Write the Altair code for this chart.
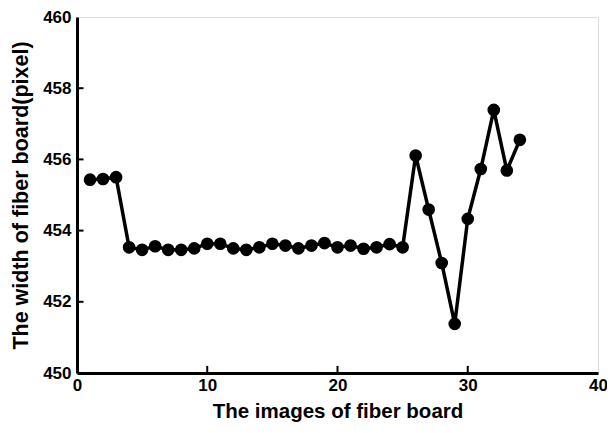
import altair as alt
import pandas as pd

image_idx = list(range(1, 35))
width_px = [455.43, 455.45, 455.50, 453.53, 453.46, 453.56, 453.46, 453.46, 453.50, 453.63,
            453.63, 453.50, 453.46, 453.53, 453.63, 453.58, 453.50, 453.58, 453.65, 453.53,
            453.58, 453.49, 453.53, 453.62, 453.53, 456.11, 454.59, 453.09, 451.38, 454.33,
            455.73, 457.39, 455.69, 456.55]
x_ticks = [10, 20, 30]
y_ticks = [452, 454, 456, 458]

df = pd.DataFrame({"x": image_idx, "y": width_px})
xt = pd.DataFrame({"x": x_ticks, "y0": [450] * 3, "y1": [450.2] * 3})
yt = pd.DataFrame({"y": y_ticks, "x0": [0] * 4, "x1": [0.5] * 4})

FONT = "Liberation Sans"
xscale = alt.Scale(domain=[0, 40], nice=False)
yscale = alt.Scale(domain=[450, 460], nice=False, zero=False)

xaxis = alt.Axis(values=[0, 10, 20, 30, 40], ticks=False, grid=False, domainColor="black",
                 domainWidth=3, labelFont=FONT, labelFontWeight="bold", labelFontSize=17,
                 labelColor="black", labelPadding=4, labelFlush=False,
                 title="The images of fiber board", titleFont=FONT, titleFontWeight="bold",
                 titleFontSize=20.5, titleColor="black", titlePadding=8)
yaxis = alt.Axis(values=[450, 452, 454, 456, 458, 460], ticks=False, grid=False,
                 domainColor="black", domainWidth=3, labelFont=FONT, labelFontWeight="bold",
                 labelFontSize=17, labelColor="black", labelPadding=6, labelFlush=False,
                 title="The width of fiber board(pixel)", titleFont=FONT, titleFontWeight="bold",
                 titleFontSize=21.5, titleColor="black", titlePadding=10)

line = alt.Chart(df).mark_line(color="black", strokeWidth=3.5).encode(
    x=alt.X("x:Q", scale=xscale, axis=xaxis),
    y=alt.Y("y:Q", scale=yscale, axis=yaxis),
)
pts = alt.Chart(df).mark_circle(color="black", opacity=1, size=160).encode(
    x=alt.X("x:Q", scale=xscale),
    y=alt.Y("y:Q", scale=yscale),
)
xtk = alt.Chart(xt).mark_rule(color="black", strokeWidth=2).encode(
    x=alt.X("x:Q", scale=xscale), y=alt.Y("y0:Q", scale=yscale), y2="y1:Q"
)
ytk = alt.Chart(yt).mark_rule(color="black", strokeWidth=2).encode(
    y=alt.Y("y:Q", scale=yscale), x=alt.X("x0:Q", scale=xscale), x2="x1:Q"
)

chart = alt.layer(xtk, ytk, line, pts).properties(
    width=521, height=356,
    autosize=alt.AutoSizeParams(type="none"),
    padding={"left": 69, "top": 9, "right": 9, "bottom": 52},
).configure_view(stroke="black", strokeWidth=3).configure(background="white")

chart.save("out.html", embed_options={"renderer": "svg", "actions": False})
